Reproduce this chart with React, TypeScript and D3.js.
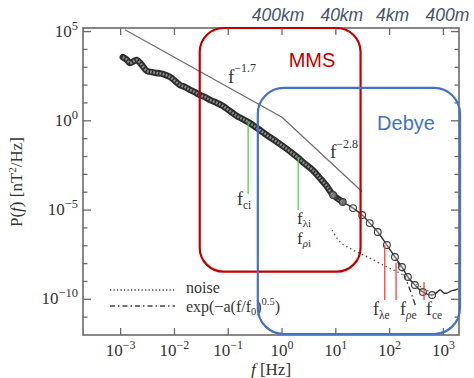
import React from "react";
import * as d3 from "d3";

// ---- data (log10 values) ----
const curveLogF = [-2.96, -2.88, -2.83, -2.75, -2.70, -2.62, -2.51, -2.42, -2.33, -2.21, -2.08, -1.99, -1.90, -1.80, -1.71, -1.62, -1.53, -1.43, -1.34, -1.21, -1.10, -0.97, -0.84, -0.73, -0.63, -0.52, -0.41, -0.26, -0.09, 0.09, 0.28, 0.43, 0.57, 0.70, 0.83, 0.95, 1.13, 1.32, 1.49, 1.63, 1.78, 1.95, 2.10, 2.23, 2.34, 2.47, 2.62, 2.79, 2.86, 2.94, 3.01, 3.07, 3.14, 3.21, 3.27];
const curveLogP = [3.57, 3.41, 3.24, 3.35, 3.41, 3.18, 2.79, 2.73, 2.68, 2.62, 2.45, 2.23, 2.01, 1.89, 1.73, 1.61, 1.45, 1.33, 1.17, 1.00, 0.83, 0.55, 0.27, 0.10, -0.07, -0.29, -0.52, -0.85, -1.19, -1.58, -2.03, -2.42, -2.76, -3.20, -3.65, -4.16, -4.55, -4.89, -5.28, -5.73, -6.23, -6.96, -7.63, -8.19, -8.75, -9.20, -9.59, -9.76, -9.65, -9.48, -9.65, -9.65, -9.54, -9.48, -9.42];

const noiseLogF = [0.93, 1.08, 1.32, 1.63, 1.95, 2.19, 2.43, 2.62, 2.75];
const noiseLogP = [-6.12, -6.79, -7.24, -7.69, -8.19, -8.53, -9.03, -9.37, -9.59];

const expLogF = [2.15, 2.27, 2.38, 2.49];
const expLogP = [-7.91, -8.64, -9.48, -10.43];

const powerLogF = [-2.92, 0.0, 1.485];
const powerLogP = [5.1, 0.2, -3.96];

// ion scales (green) and electron scales (red): [logf, top logP, bottom logP]
const ionMarkLogF = [-0.63, 0.30];
const ionMarkTop = [-0.01, -2.03];
const ionMarkBottom = [-4.1, -5.0];
const elecMarkLogF = [1.91, 2.12, 2.64];
const elecMarkTop = [-6.96, -7.97, -9.03];
const elecMarkBottom = -10.04;

const xTickExps = [-3, -2, -1, 0, 1, 2, 3];
const yLabelExps = [5, 0, -5, -10];
const yMinorExps = d3.range(-11, 6);
const topLabels = ["400km", "40km", "4km", "400m"];
const topLabelExps = [0, 1, 2, 3];
const topLabelShift = [-4, 6, 3, 4];

// boxes in data space (log10)
const mmsBox = { f0: -1.53, f1: 1.46, p0: -8.45 };
const debyeBox = { f0: -0.45, p1: 1.84 };

const W = 474, H = 378;
const L = 83, R = 459, T = 28, B = 335;

const x = d3.scaleLog().domain([10 ** -3.7, 10 ** 3.29]).range([L, R]);
const y = d3.scaleLog().domain([1e-12, 10 ** 5.2]).range([B, T]);
const px = (lf: number) => x(10 ** lf);
const py = (lp: number) => y(10 ** lp);

const serif = "'Liberation Serif', 'Times New Roman', serif";
const sans = "'Liberation Sans', Arial, sans-serif";

function pathFrom(lf: number[], lp: number[], curve: any = d3.curveCatmullRom.alpha(0.5)) {
  const pts = lf.map((f, i) => [px(f), py(lp[i])] as [number, number]);
  return d3.line().curve(curve)(pts) as string;
}

const expLabel = (e: number) => (e < 0 ? "\u2212" + Math.abs(e) : String(e));

export default function App() {
  const chainEnd = curveLogF.findIndex((f) => f > 0.95);
  const chainF = curveLogF.slice(0, chainEnd + 1);
  const chainP = curveLogP.slice(0, chainEnd + 1);
  const tailF = curveLogF.slice(chainEnd - 1);
  const tailP = curveLogP.slice(chainEnd - 1);
  const chainPath = pathFrom(chainF, chainP);
  const tailPath = pathFrom(tailF, tailP);
  const frame = "#6a6a6a";

  return (
    <svg width={W} height={H} style={{ position: "absolute", left: 0, top: 0, background: "#fff" }}>
      {/* top spatial scale labels */}
      {topLabels.map((t, i) => (
        <text key={t} x={px(topLabelExps[i]) + topLabelShift[i]} y={21} textAnchor="middle" fontFamily={sans} fontStyle="italic" fontSize={17.5} fill="#44546A">{t}</text>
      ))}

      {/* frame */}
      <rect x={L} y={T} width={R - L} height={B - T} fill="none" stroke={frame} strokeWidth={1.6} />
      {/* x ticks bottom/top */}
      {xTickExps.map((e) => (
        <g key={e}>
          <line x1={px(e)} x2={px(e)} y1={B} y2={B - 7} stroke={frame} strokeWidth={1.3} />
          <line x1={px(e)} x2={px(e)} y1={T} y2={T + 7} stroke={frame} strokeWidth={1.3} />
          <text x={px(e)} y={356} textAnchor="middle" fontFamily={serif} fontSize={17} fill="#333">
            10<tspan dy={-7} fontSize={12}>{expLabel(e)}</tspan>
          </text>
        </g>
      ))}
      {/* y ticks */}
      {yMinorExps.map((e) => {
        const major = e % 5 === 0;
        const len = major ? 8 : 4.5;
        return (
          <g key={e}>
            <line x1={L} x2={L + len} y1={py(e)} y2={py(e)} stroke={frame} strokeWidth={1.3} />
            <line x1={R} x2={R - len} y1={py(e)} y2={py(e)} stroke={frame} strokeWidth={1.3} />
          </g>
        );
      })}
      {yLabelExps.map((e) => (
        <text key={e} x={78} y={py(e) + 5} textAnchor="end" fontFamily={serif} fontSize={17} fill="#333">
          10<tspan dy={-7} fontSize={12.5}>{expLabel(e)}</tspan>
        </text>
      ))}

      {/* axis titles */}
      <text x={271} y={375} textAnchor="middle" fontFamily={serif} fontSize={17} fill="#333">
        <tspan fontStyle="italic">f</tspan> [Hz]
      </text>
      <text transform="translate(22,182) rotate(-90)" textAnchor="middle" fontFamily={serif} fontSize={17} fill="#333">
        P(<tspan fontStyle="italic">f</tspan>)  [nT<tspan dy={-6} fontSize={11}>2</tspan><tspan dy={6}>/Hz]</tspan>
      </text>

      {/* power law guide */}
      <path d={pathFrom(powerLogF, powerLogP, d3.curveLinear)} fill="none" stroke="#6e6e6e" strokeWidth={1.3} />
      <text x={228} y={83} fontFamily={serif} fontSize={19} fill="#333">f<tspan dy={-11} fontSize={12}>{"\u22121.7"}</tspan></text>
      <text x={330} y={158} fontFamily={serif} fontSize={19} fill="#333">f<tspan dy={-10} fontSize={12}>{"\u22122.8"}</tspan></text>

      {/* noise and exp fit */}
      <path d={pathFrom(noiseLogF, noiseLogP)} fill="none" stroke="#555" strokeWidth={1.4} strokeDasharray="1.4 3" />
      <path d={pathFrom(expLogF, expLogP)} fill="none" stroke="#333" strokeWidth={1.3} strokeDasharray="6 3 1.5 3" />

      {/* spectrum */}
      <path d={chainPath} fill="none" stroke="#2e2e2e" strokeWidth={6.5} strokeLinecap="round" />
      <path d={chainPath} fill="none" stroke="#8c8c8c" strokeWidth={2.6} strokeDasharray="1.8 1.4" />
      <path d={tailPath} fill="none" stroke="#333" strokeWidth={1.4} />
      {curveLogF.map((f, i) =>
        f > 0.9 && f < 2.82 ? (
          <circle key={i} cx={px(f)} cy={py(curveLogP[i])} r={3.4} fill="rgba(235,235,235,0.35)" stroke="#3a3a3a" strokeWidth={1.1} />
        ) : null
      )}

      {/* ion scale markers */}
      {ionMarkLogF.map((f, i) => (
        <line key={i} x1={px(f)} x2={px(f)} y1={py(ionMarkTop[i])} y2={py(ionMarkBottom[i])} stroke="#33dd33" strokeWidth={1.2} />
      ))}
      <text x={237} y={205} fontFamily={serif} fontSize={18} fill="#333">f<tspan dy={4} fontSize={11.5}>ci</tspan></text>
      <text x={297} y={224} fontFamily={serif} fontSize={17} fill="#333">f<tspan dy={3} fontSize={11}>{"\u03BBi"}</tspan></text>
      <text x={297} y={244} fontFamily={serif} fontSize={17} fill="#333">f<tspan dy={3} fontSize={11} fontStyle="italic">{"\u03C1"}</tspan><tspan fontSize={11}>i</tspan></text>

      {/* electron scale markers */}
      {elecMarkLogF.map((f, i) => (
        <line key={i} x1={px(f)} x2={px(f)} y1={py(elecMarkTop[i])} y2={py(elecMarkBottom)} stroke="#ff3b3b" strokeWidth={1.3} />
      ))}
      <text x={373} y={315} fontFamily={serif} fontSize={18} fill="#333">f<tspan dy={4} fontSize={11.5}>{"\u03BBe"}</tspan></text>
      <text x={400} y={315} fontFamily={serif} fontSize={18} fill="#333">f<tspan dy={4} fontSize={11.5} fontStyle="italic">{"\u03C1"}</tspan><tspan fontSize={11.5}>e</tspan></text>
      <text x={426} y={315} fontFamily={serif} fontSize={18} fill="#333">f<tspan dy={4} fontSize={11.5}>ce</tspan></text>

      {/* legend */}
      <line x1={110} x2={175} y1={290} y2={290} stroke="#444" strokeWidth={1.3} strokeDasharray="1.3 2.2" />
      <text x={186} y={293} fontFamily={serif} fontSize={16} fill="#333">noise</text>
      <line x1={110} x2={175} y1={306} y2={306} stroke="#444" strokeWidth={1.3} strokeDasharray="5 3 1.5 3" />
      <text x={186} y={312} fontFamily={serif} fontSize={16} fill="#333">
        exp({"\u2212"}a(f/f<tspan dy={3} fontSize={10.5}>0</tspan><tspan dy={-3}>)</tspan><tspan dy={-7} fontSize={10.5}>0.5</tspan><tspan dy={7}>)</tspan>
      </text>

      {/* MMS box */}
      <rect x={px(mmsBox.f0)} y={T} width={px(mmsBox.f1) - px(mmsBox.f0)} height={py(mmsBox.p0) - T} rx={24} ry={24} fill="none" stroke="#C00000" strokeWidth={2.2} />
      <text x={312} y={67} textAnchor="middle" fontFamily={sans} fontSize={20} fill="#C00000">MMS</text>

      {/* Debye box */}
      <rect x={px(debyeBox.f0)} y={py(debyeBox.p1)} width={R + 1 - px(debyeBox.f0)} height={B - 1 - py(debyeBox.p1)} rx={26} ry={26} fill="none" stroke="#4472C4" strokeWidth={2.2} />
      <text x={406} y={130} textAnchor="middle" fontFamily={sans} fontSize={20} fill="#4472C4">Debye</text>
    </svg>
  );
}
